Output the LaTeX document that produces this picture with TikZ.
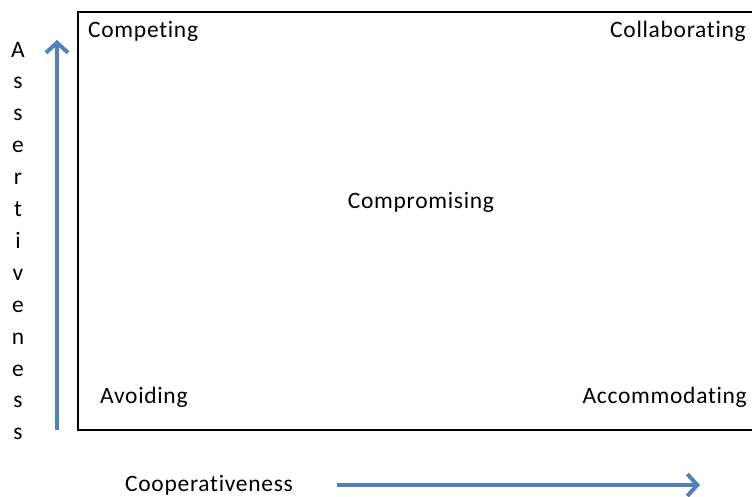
\documentclass[tikz,border=0pt]{standalone}
\usepackage{fontspec}
\setmainfont{Carlito}[Ligatures=NoCommon,LetterSpace=3]
\usetikzlibrary{arrows.meta}
\definecolor{axisblue}{RGB}{79,129,189}
\begin{document}
\begin{tikzpicture}[x=1pt,y=-1pt,
  label/.style={inner sep=0pt,font=\fontsize{23.5}{27}\selectfont,text=black},
  axis/.style={draw=axisblue,line width=4pt,
    -{Straight Barb[length=10pt,width=22pt,line width=4pt]}}]
\useasboundingbox (0,0) rectangle (752,496);
\clip (0,0) rectangle (752,496);
% frame of the grid
\draw[line width=2pt] (78,12) rectangle (790,430);
% quadrant labels
\node[label,anchor=base west] (compete) at (88,37) {Competing};
\node[label,anchor=base east] (collab) at (746,37) {Collaborating};
\node[label,anchor=base] (compro) at (421,208) {Compromising};
\node[label,anchor=base west] (avoid) at (100,403) {Avoiding};
\node[label,anchor=base east] (accom) at (747,403) {Accommodating};
\node[label,anchor=base west] (coop) at (125,491) {Cooperativeness};
% vertical axis caption, one letter per line
\foreach \ch [count=\i from 0] in {A,s,s,e,r,t,i,v,e,n,e,s,s}{
  \node[label,anchor=base] (v\i) at (18,{57+31.9*\i}) {\ch};
}
% axis arrows
\coordinate (ybot) at (57,430);
\coordinate (ytop) at (57,40);
\coordinate (xleft) at (337,485);
\coordinate (xright) at (700,485);
\draw[axis] (ybot) -- (ytop);
\draw[axis] (xleft) -- (xright);
\end{tikzpicture}
\end{document}
